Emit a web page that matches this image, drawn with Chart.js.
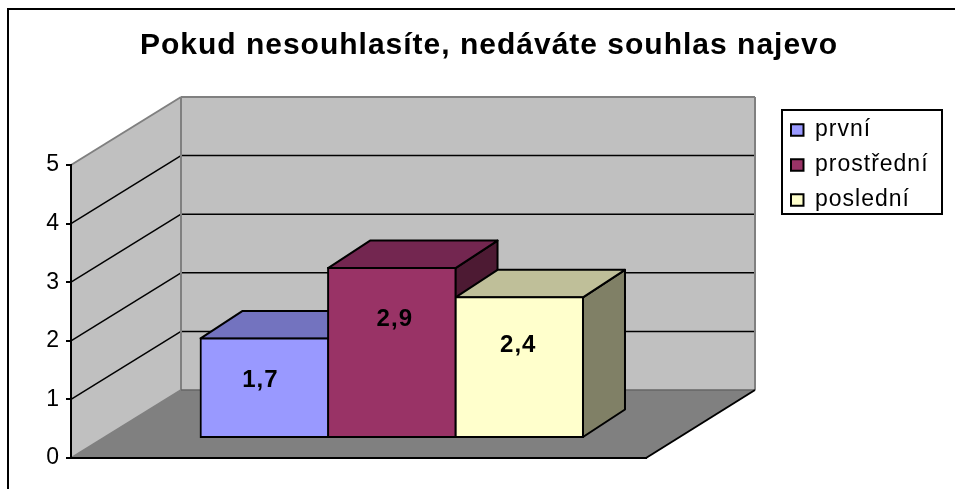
<!DOCTYPE html>
<html><head><meta charset="utf-8">
<style>html,body{margin:0;padding:0;background:#fff}canvas{display:block}</style>
<script src="https://cdn.jsdelivr.net/npm/chart.js@4"></script>
</head><body><canvas id="c" width="955" height="489"></canvas>
<script>
const categories = [''];
const seriesNames = ['první', 'prostřední', 'poslední'];
const valuesPrvni = [1.7];
const valuesProstredni = [2.9];
const valuesPosledni = [2.4];
const yTicks = [0, 1, 2, 3, 4, 5];
const chartTitle = 'Pokud nesouhlasíte, nedáváte souhlas najevo';

const frontColors = ['#9999FF', '#993366', '#FFFFCC'];
const topColors = ['#7373BF', '#732650', '#BFBF99'];
const sideColors = ['#5C5C99', '#4D1A33', '#808066'];
const labelNudge = [[-4, 41.5], [3, 51], [-1, 48.5]];
const FONT = '"Liberation Sans", Arial, sans-serif';
const FLOOR = {dx: 110, dxRight: 109, dy: -68};
const BAR_START = {dx: 33.3, dy: -20};
const BAR_DEPTH = {dx: 42, dy: -27.5};

function poly(ctx, pts, fill, stroke, lw) {
  ctx.beginPath();
  pts.forEach((p, i) => i ? ctx.lineTo(p[0], p[1]) : ctx.moveTo(p[0], p[1]));
  ctx.closePath();
  if (fill) { ctx.fillStyle = fill; ctx.fill(); }
  if (stroke) { ctx.strokeStyle = stroke; ctx.lineWidth = lw; ctx.stroke(); }
}
function line(ctx, x1, y1, x2, y2, color, lw) {
  ctx.beginPath(); ctx.moveTo(x1, y1); ctx.lineTo(x2, y2);
  ctx.strokeStyle = color; ctx.lineWidth = lw; ctx.stroke();
}

const box3d = {
  id: 'box3d',
  afterLayout(chart) {
    const t = chart.titleBlock;
    t.left = 100; t.right = 878;
    const l = chart.legend;
    l.left = 779; l.top = 106.5; l.right = 942; l.bottom = 300;
  },
  beforeDraw(chart) {
    const ctx = chart.ctx, a = chart.chartArea, y = chart.scales.y;
    ctx.letterSpacing = '1px';
    ctx.save();
    const L = a.left, R = a.right, T = y.getPixelForValue(5), B = y.getPixelForValue(0);
    const dx = FLOOR.dx, dy = FLOOR.dy, BR = R + FLOOR.dxRight;
    // outer frame (left and top edges only, as in the picture)
    ctx.strokeStyle = '#000'; ctx.lineWidth = 2;
    ctx.beginPath(); ctx.moveTo(8, 489); ctx.lineTo(8, 9); ctx.lineTo(955, 9); ctx.stroke();
    // legend frame
    ctx.strokeRect(782, 110, 160, 104);
    // walls
    poly(ctx, [[L + dx, T + dy], [BR, T + dy], [BR, B + dy], [L + dx, B + dy]], '#C0C0C0');
    poly(ctx, [[L, T], [L + dx, T + dy], [L + dx, B + dy], [L, B]], '#C0C0C0');
    poly(ctx, [[L, B], [L + dx, B + dy], [BR, B + dy], [R, B]], '#808080');
    // gridlines
    yTicks.slice(1, -1).forEach(v => {
      const p = y.getPixelForValue(v);
      line(ctx, L, p, L + dx, p + dy, '#000', 1.5);
      line(ctx, L + dx, p + dy, BR, p + dy, '#000', 1.5);
    });
    // wall edges
    line(ctx, L, T, L + dx, T + dy, '#808080', 2);
    line(ctx, L + dx, T + dy, BR, T + dy, '#808080', 2);
    line(ctx, L + dx, T + dy, L + dx, B + dy, '#808080', 2);
    line(ctx, BR, T + dy, BR, B + dy, '#808080', 2);
    line(ctx, L, B, L + dx, B + dy, '#808080', 2);
    line(ctx, L + dx, B + dy, BR, B + dy, '#666', 1.5);
    line(ctx, R, B, BR, B + dy, '#000', 2);
    ctx.restore();
  },
  beforeDatasetsDraw(chart) {
    const ctx = chart.ctx;
    ctx.save();
    ctx.translate(BAR_START.dx, BAR_START.dy);
    ctx.lineJoin = 'round';
    const dx = BAR_DEPTH.dx, dy = BAR_DEPTH.dy;
    chart.data.datasets.forEach((ds, i) => {
      const b = chart.getDatasetMeta(i).data[0];
      const l = b.x - b.width / 2, r = b.x + b.width / 2, t = b.y, bt = b.base;
      poly(ctx, [[r, t], [r + dx, t + dy], [r + dx, bt + dy], [r, bt]], sideColors[i], '#000', 2);
      poly(ctx, [[l, t], [l + dx, t + dy], [r + dx, t + dy], [r, t]], topColors[i], '#000', 2);
    });
  },
  afterDatasetsDraw(chart) {
    const ctx = chart.ctx;
    ctx.restore();
    ctx.save();
    ctx.font = 'bold 24px ' + FONT;
    ctx.fillStyle = '#000';
    ctx.textAlign = 'center';
    ctx.textBaseline = 'middle';
    chart.data.datasets.forEach((ds, i) => {
      const b = chart.getDatasetMeta(i).data[0];
      const txt = String(ds.data[0]).replace('.', ',');
      ctx.fillText(txt, b.x + BAR_START.dx + labelNudge[i][0], b.y + BAR_START.dy + labelNudge[i][1]);
    });
    ctx.restore();
  }
};

const seriesValues = [valuesPrvni, valuesProstredni, valuesPosledni];
new Chart(document.getElementById('c'), {
  type: 'bar',
  data: {
    labels: categories,
    datasets: seriesNames.map((n, i) => ({
      label: n, data: seriesValues[i],
      backgroundColor: frontColors[i], borderColor: '#000', borderWidth: 2,
      borderSkipped: false, clip: false, inflateAmount: 1,
      categoryPercentage: 0.665, barPercentage: 1
    }))
  },
  plugins: [box3d],
  options: {
    responsive: false, animation: false, events: [],
    layout: {padding: {left: 8, right: 309, top: 28, bottom: 31}},
    scales: {
      x: {
        ticks: {display: false}, grid: {display: false, drawTicks: false},
        border: {color: '#000', width: 2},
        afterFit(s) { s.height = 0; }
      },
      y: {
        min: 0, max: 5,
        afterBuildTicks(s) { s.ticks = yTicks.map(v => ({value: v})); },
        afterFit(s) { s.width = 63; },
        ticks: {color: '#000', font: {family: FONT, size: 23}, padding: 6},
        grid: {drawOnChartArea: false, drawTicks: true, tickLength: 5, color: '#000', lineWidth: 2},
        border: {color: '#000', width: 2}
      }
    },
    plugins: {
      tooltip: {enabled: false},
      title: {
        display: true, text: chartTitle, color: '#000',
        font: {family: FONT, size: 30, weight: 'bold', lineHeight: 1.2},
        padding: {top: 0, bottom: 101}
      },
      legend: {
        display: true, position: 'chartArea', align: 'start',
        labels: {color: '#000', font: {family: FONT, size: 23}, boxWidth: 12.5, boxHeight: 11.5, padding: 12}
      }
    }
  }
});
</script></body></html>
